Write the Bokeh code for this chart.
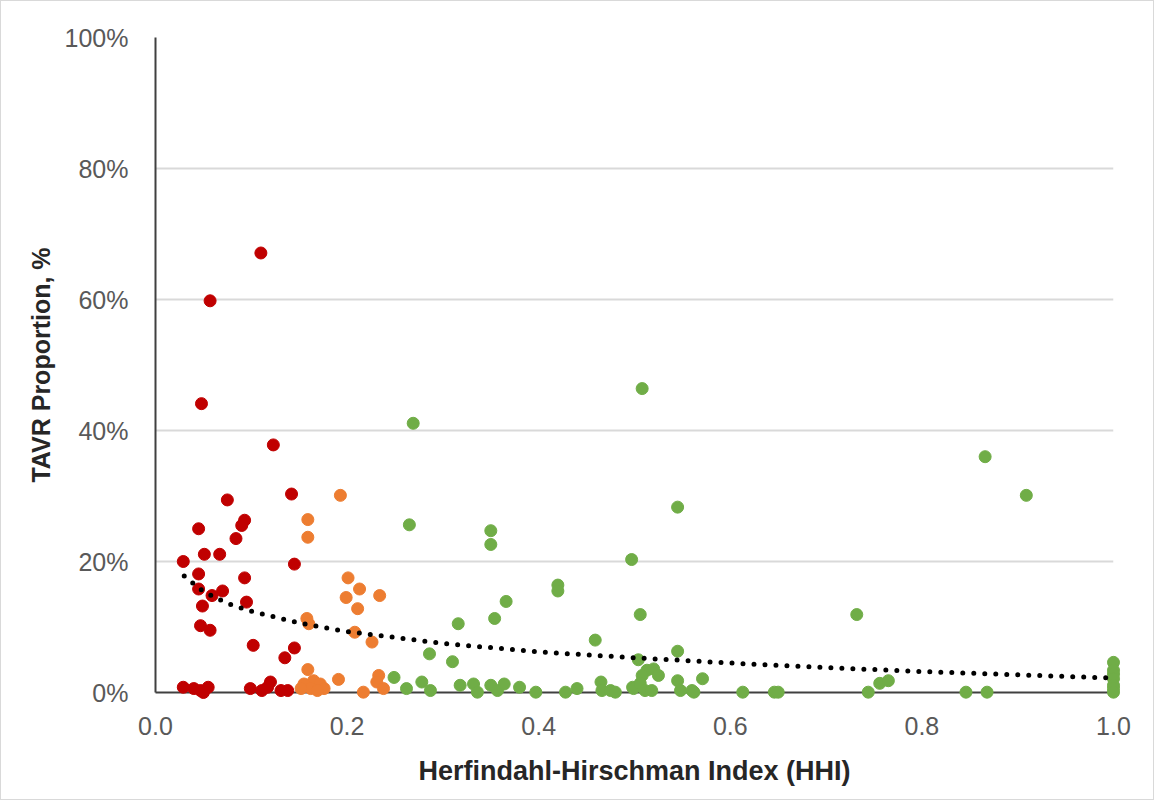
from bokeh.plotting import figure
from bokeh.models import Range1d, NumeralTickFormatter, FixedTicker
from bokeh.embed import file_html
from bokeh.resources import INLINE

# ---- data (HHI, TAVR proportion in %) ----
red_x = [0.110, 0.057, 0.048, 0.123, 0.142, 0.075, 0.093, 0.090, 0.084, 0.045,
         0.051, 0.067, 0.029, 0.045, 0.093, 0.045, 0.059, 0.070, 0.095, 0.049,
         0.047, 0.057, 0.102, 0.145, 0.145, 0.135,
         0.029, 0.040, 0.047, 0.055, 0.050, 0.099, 0.111, 0.117, 0.120, 0.131, 0.138]
red_y = [67.1, 59.8, 44.1, 37.8, 30.3, 29.4, 26.3, 25.5, 23.5, 25.0,
         21.1, 21.1, 20.0, 18.1, 17.5, 15.8, 14.8, 15.5, 13.8, 13.2,
         10.2, 9.5, 7.2, 19.6, 6.8, 5.3,
         0.8, 0.6, 0.3, 0.8, 0.0, 0.6, 0.3, 0.8, 1.6, 0.3, 0.3]

orange_x = [0.193, 0.159, 0.159, 0.201, 0.213, 0.199, 0.234, 0.211, 0.158, 0.160,
            0.208, 0.226, 0.159, 0.165, 0.191, 0.233, 0.231, 0.238, 0.217, 0.155,
            0.172, 0.162, 0.176, 0.169, 0.152]
orange_y = [30.1, 26.4, 23.7, 17.5, 15.8, 14.5, 14.8, 12.8, 11.3, 10.5,
            9.2, 7.7, 3.5, 1.8, 2.0, 2.6, 1.6, 0.6, 0.05, 1.3,
            1.3, 0.6, 0.6, 0.3, 0.6]

green_x = [0.269, 0.265, 0.508, 0.350, 0.350, 0.545, 0.497, 0.420, 0.420, 0.366,
           0.354, 0.506, 0.316, 0.459, 0.545, 0.504, 0.513, 0.520, 0.525, 0.508,
           0.286, 0.310, 0.249, 0.866, 0.909, 0.732, 0.571, 0.756, 0.765,
           0.262, 0.278, 0.287, 0.318, 0.332, 0.336, 0.350, 0.357, 0.364, 0.380,
           0.397, 0.428, 0.440, 0.465, 0.466, 0.475, 0.480, 0.498, 0.499, 0.506,
           0.511, 0.518, 0.545, 0.548, 0.560, 0.562, 0.613, 0.646, 0.650, 0.744,
           0.846, 0.868, 1.0, 1.0, 1.0, 1.0, 1.0, 1.0, 1.0]
green_y = [41.1, 25.6, 46.4, 24.7, 22.6, 28.3, 20.3, 16.4, 15.5, 13.9,
           11.3, 11.9, 10.5, 8.0, 6.3, 5.0, 3.4, 3.6, 2.6, 2.6,
           5.9, 4.7, 2.3, 36.0, 30.1, 11.9, 2.1, 1.4, 1.8,
           0.6, 1.6, 0.3, 1.1, 1.3, 0.05, 1.1, 0.3, 1.3, 0.8,
           0.05, 0.05, 0.6, 1.6, 0.3, 0.3, 0.05, 0.8, 0.6, 1.4,
           0.3, 0.3, 1.8, 0.3, 0.3, 0.05, 0.05, 0.05, 0.05, 0.05,
           0.05, 0.05, 4.6, 3.4, 2.8, 2.1, 1.1, 0.6, 0.05]

# dotted trend line
trend_x = [0.03, 0.05, 0.075, 0.1, 0.15, 0.2, 0.3, 0.4, 0.5, 0.6, 0.7, 0.8, 0.9, 1.0]
trend_y = [17.8, 15.4, 13.6, 12.4, 10.6, 9.3, 7.5, 6.2, 5.3, 4.5, 3.8, 3.2, 2.7, 2.2]

x_ticks = [0.0, 0.2, 0.4, 0.6, 0.8, 1.0]
y_ticks = [0, 20, 40, 60, 80, 100]
y_tick_labels = ["0%", "20%", "40%", "60%", "80%", "100%"]

FONT = "Liberation Sans"

p = figure(width=1154, height=800, output_backend="svg", toolbar_location=None,
           x_range=Range1d(0, 1), y_range=Range1d(0, 100),
           min_border_left=154, min_border_right=42, min_border_top=36, min_border_bottom=109)
p.styles = {"border": "1px solid #d9d9d9"}
p.outline_line_color = None
p.background_fill_color = "white"

# axes
p.xaxis.ticker = FixedTicker(ticks=x_ticks)
p.xaxis.formatter = NumeralTickFormatter(format="0.0")
p.yaxis.ticker = FixedTicker(ticks=y_ticks)
p.yaxis.major_label_overrides = {t: l for t, l in zip(y_ticks, y_tick_labels)}

for ax in (p.xaxis[0], p.yaxis[0]):
    ax.major_tick_line_color = None
    ax.minor_tick_line_color = None
    ax.axis_line_color = "#404040"
    ax.axis_line_width = 2
    ax.major_label_text_font = FONT
    ax.major_label_text_font_size = "25px"
    ax.major_label_text_color = "#595959"
    ax.axis_label_text_font = FONT
    ax.axis_label_text_font_style = "bold"
    ax.axis_label_text_color = "#262626"

p.xaxis.axis_label = "Herfindahl-Hirschman Index (HHI)"
p.yaxis.axis_label = "TAVR Proportion, %"
p.xaxis.axis_label_text_font_size = "27px"
p.yaxis.axis_label_text_font_size = "25px"
p.xaxis.major_label_standoff = 18
p.xaxis.axis_label_standoff = 18
p.yaxis.major_label_standoff = 21
p.yaxis.axis_label_standoff = 7

p.xgrid.grid_line_color = None
p.ygrid.ticker = FixedTicker(ticks=y_ticks[1:])
p.ygrid.grid_line_color = "#d9d9d9"
p.ygrid.grid_line_width = 2

for xs, ys, col in ((red_x, red_y, "#C00000"),
                    (orange_x, orange_y, "#ED7D31"),
                    (green_x, green_y, "#70AD47")):
    r = p.scatter(xs, ys, size=12, fill_color=col, line_color=col, line_width=1)
    r.level = "overlay"

t = p.line(trend_x, trend_y, line_color="black", line_width=5,
           line_dash="0 11", line_cap="round")
t.level = "overlay"

open("out.html", "w").write(file_html(p, INLINE))
